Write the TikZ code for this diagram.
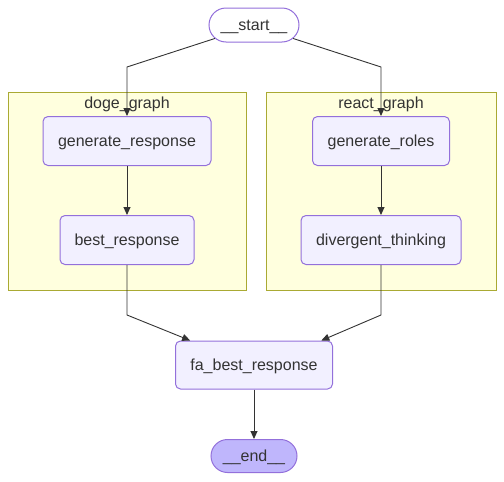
\documentclass[tikz,border=0pt]{standalone}
\usepackage{fontspec}
\setmainfont{Liberation Sans}
\usepackage{xcolor}
\usetikzlibrary{arrows.meta,shapes.misc}
\definecolor{nodefill}{HTML}{F2F0FF}
\definecolor{nodeline}{HTML}{9370DB}
\definecolor{endfill}{HTML}{BFB6FC}
\definecolor{clusterfill}{HTML}{FFFFDE}
\definecolor{clusterline}{HTML}{AAAA33}
\definecolor{inkgray}{HTML}{333333}
\tikzset{
  every node/.style={text=inkgray, font=\fontsize{16pt}{19pt}\selectfont,
    text height=14pt, text depth=3pt},
  stepbox/.style={draw=nodeline, fill=nodefill, line width=1pt,
    rounded corners=5pt, minimum height=49pt, inner sep=0pt},
  terminal/.style={rounded rectangle, draw=nodeline, line width=1pt,
    minimum width=90pt, minimum height=34pt, inner sep=0pt},
  cluster/.style={draw=clusterline, fill=clusterfill, line width=1pt,
    inner sep=0pt},
  flow/.style={draw=inkgray, line width=0.9pt,
    -{Triangle[length=8pt,width=7pt]}},
}
\begin{document}
\begin{tikzpicture}[x=1pt,y=-1pt]
\useasboundingbox (0,0) rectangle (504,482);
% subgraph boxes
\node[cluster, minimum width=238pt, minimum height=198pt] (doge) at (127,191) {};
\node[cluster, minimum width=230pt, minimum height=198pt] (react) at (381,191) {};
\node (dogelabel) at (127,103) {doge\_graph};
\node (reactlabel) at (381,103) {react\_graph};
% nodes
\node[terminal, fill=white] (start) at (254,25) {\_\_start\_\_};
\node[stepbox, minimum width=168pt] (genresp) at (127,141) {generate\_response};
\node[stepbox, minimum width=134pt] (bestresp) at (127,240) {best\_response};
\node[stepbox, minimum width=137pt] (genroles) at (381,141) {generate\_roles};
\node[stepbox, minimum width=160pt] (divthink) at (381,240) {divergent\_thinking};
\node[stepbox, minimum width=157pt, minimum height=48pt] (fabest) at (254,365) {fa\_best\_response};
\node[terminal, fill=endfill, minimum width=86pt, minimum height=33pt] (end) at (254,456) {\_\_end\_\_};
% bends
\coordinate (bendL) at (127,67);
\coordinate (bendR) at (381,67);
\coordinate (joinL) at (127,315);
\coordinate (joinR) at (381,315);
% edges
\draw[flow] (start.199) -- (bendL) -- (genresp.north);
\draw[flow] (start.-19) -- (bendR) -- (genroles.north);
\draw[flow] (genresp) -- (bestresp);
\draw[flow] (genroles) -- (divthink);
\draw[flow] (bestresp.south) -- (joinL) -- (fabest.159.4);
\draw[flow] (divthink.south) -- (joinR) -- (fabest.20.6);
\draw[flow] (fabest) -- (end);
\end{tikzpicture}
\end{document}
